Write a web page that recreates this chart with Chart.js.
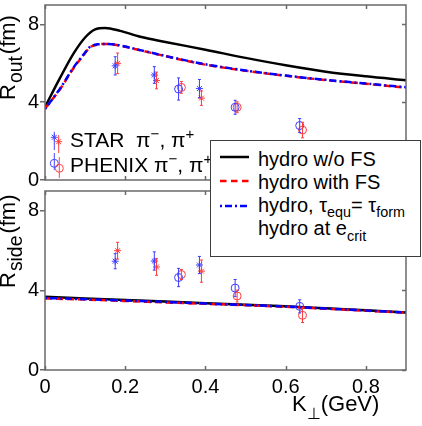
<!DOCTYPE html>
<html><head><meta charset="utf-8">
<script src="https://cdn.jsdelivr.net/npm/chart.js@4/dist/chart.umd.min.js"></script>
<style>
html,body{margin:0;padding:0;background:#fff;}
#wrap{position:relative;width:422px;height:426px;overflow:hidden;font-family:"Liberation Sans",Arial,sans-serif;color:#000;}
canvas{position:absolute;left:0;}
#c1{top:0;width:422px;height:190px;}
#c2{top:186px;width:422px;height:240px;}
.t{position:absolute;white-space:nowrap;line-height:1;}
.rot{transform-origin:0 0;transform:rotate(-90deg);}
.sb{position:relative;font-size:72%;line-height:0;}
.sp{position:relative;font-size:72%;line-height:0;}
#leg{position:absolute;left:210px;top:140px;width:211px;height:117px;box-sizing:border-box;background:#fff;border:1.5px solid #3c3c3c;}
#leg .t{font-size:20px;left:47px;}
</style></head>
<body><div id="wrap">
<canvas id="c1" width="422" height="190"></canvas>
<canvas id="c2" width="422" height="240"></canvas>

<div class="t rot" style="left:-3px;top:100px;font-size:22px;">R<span class="sb" style="top:7px;font-size:88%;padding:0 2px 0 1px;">out</span>(fm)</div>
<div class="t rot" style="left:-3px;top:288px;font-size:22px;">R<span class="sb" style="top:7px;font-size:88%;padding:0 2px 0 1px;">side</span>(fm)</div>
<div class="t" style="left:292px;top:393px;font-size:22px;">K<span class="sb" style="top:8px;">⊥</span>(GeV)</div>

<svg style="position:absolute;left:0;top:0;" width="100" height="190">
  <g stroke="#4646ff" stroke-width="1" fill="none">
    <line x1="54.3" y1="131.7" x2="54.3" y2="150"/>
    <path d="M50.8 137.3 L57.8 137.3 M54.3 133.8 L54.3 140.8 M51.8 134.8 L56.8 139.8 M51.8 139.8 L56.8 134.8"/>
    <line x1="54.3" y1="153" x2="54.3" y2="170"/>
    <circle cx="54.3" cy="163.3" r="4"/>
  </g>
  <g stroke="#ff4646" stroke-width="1" fill="none">
    <line x1="58.7" y1="135" x2="58.7" y2="153"/>
    <path d="M55.2 141.7 L62.2 141.7 M58.7 138.2 L58.7 145.2 M56.2 139.2 L61.2 144.2 M56.2 144.2 L61.2 139.2"/>
    <line x1="59.3" y1="157" x2="59.3" y2="178"/>
    <circle cx="59.3" cy="168.3" r="4"/>
  </g>
</svg>
<div class="t" style="left:70px;top:129px;font-size:21px;">STAR&nbsp; π<span class="sp" style="top:-8px;">−</span>, π<span class="sp" style="top:-8px;">+</span></div>
<div class="t" style="left:70px;top:154px;font-size:21px;">PHENIX π<span class="sp" style="top:-8px;">−</span>, π<span class="sp" style="top:-8px;">+</span></div>

<div id="leg">
  <svg style="position:absolute;left:0;top:0;" width="60" height="110">
    <line x1="9" y1="16" x2="38" y2="16" stroke="#000" stroke-width="2.5"/>
    <line x1="9" y1="40" x2="38" y2="40" stroke="#ff0000" stroke-width="2.5" stroke-dasharray="6.5,4.5"/>
    <line x1="9" y1="65" x2="38" y2="65" stroke="#0000ff" stroke-width="2.5" stroke-dasharray="2,3,7,3"/>
  </svg>
  <div class="t" style="top:8px;">hydro w/o FS</div>
  <div class="t" style="top:31px;">hydro with FS</div>
  <div class="t" style="top:54px;">hydro, τ<span class="sb" style="top:5px;">equ</span>= τ<span class="sb" style="top:5px;">form</span></div>
  <div class="t" style="top:77px;">hydro at e<span class="sb" style="top:6px;">crit</span></div>
</div>
</div>
<script>
// ---- data ----
const xTickVals = [0, 0.2, 0.4, 0.6, 0.8];
const yTickVals = [0, 4, 8];

// R_out curves
const kOutNoFS = [0, 0.0375, 0.071, 0.1, 0.125, 0.15, 0.1875, 0.2375, 0.3, 0.4, 0.5, 0.6, 0.7, 0.8, 0.9];
const routNoFS = [3.75, 5.25, 6.5, 7.33, 7.75, 7.82, 7.67, 7.37, 7.1, 6.7, 6.28, 5.9, 5.57, 5.33, 5.13];
const kOutFS   = [0, 0.0375, 0.071, 0.096, 0.1125, 0.133, 0.158, 0.196, 0.2375, 0.3, 0.4, 0.5, 0.6, 0.7, 0.8, 0.9];
const routFS   = [3.67, 4.67, 5.75, 6.42, 6.83, 6.97, 7.0, 6.87, 6.67, 6.37, 5.93, 5.62, 5.36, 5.14, 4.95, 4.75];
const routEqu  = [3.65, 4.7, 5.78, 6.45, 6.85, 6.98, 7.0, 6.88, 6.68, 6.38, 5.95, 5.63, 5.37, 5.15, 4.96, 4.77];

// R_side curves
const kSide      = [0, 0.1, 0.2, 0.3, 0.4, 0.5, 0.6, 0.7, 0.8, 0.9];
const rsideNoFS  = [3.68, 3.6, 3.52, 3.44, 3.36, 3.28, 3.2, 3.1, 3.0, 2.89];
const rsideFS    = [3.6, 3.54, 3.47, 3.4, 3.33, 3.26, 3.18, 3.08, 2.98, 2.88];
const rsideEqu   = [3.62, 3.56, 3.49, 3.42, 3.34, 3.27, 3.19, 3.09, 2.99, 2.89];

// data points
const kStarMinus   = [0.175, 0.2725, 0.385];
const kStarPlus    = [0.181, 0.278, 0.39];
const kPhenixMinus = [0.333, 0.474, 0.635];
const kPhenixPlus  = [0.34, 0.479, 0.642];

const routStarMinus     = [5.87, 5.4, 4.7];
const routStarMinusErr  = [0.47, 0.43, 0.47];
const routStarPlus      = [6.0, 5.12, 4.21];
const routStarPlusErr   = [0.53, 0.43, 0.37];
const routPhenixMinus   = [4.68, 3.74, 2.8];
const routPhenixMinusErr= [0.57, 0.36, 0.36];
const routPhenixPlus    = [4.76, 3.74, 2.57];
const routPhenixPlusErr = [0.3, 0.28, 0.4];

const rsideStarMinus     = [5.47, 5.48, 5.28];
const rsideStarMinusErr  = [0.38, 0.46, 0.43];
const rsideStarPlus      = [6.0, 5.18, 4.97];
const rsideStarPlusErr   = [0.42, 0.42, 0.56];
const rsidePhenixMinus   = [4.65, 4.12, 3.2];
const rsidePhenixMinusErr= [0.46, 0.43, 0.33];
const rsidePhenixPlus    = [4.8, 3.72, 2.75];
const rsidePhenixPlusErr = [0.25, 0.3, 0.36];

// ---- helpers ----
const BLUE = '#3c3cff', RED = '#ff3c3c', FRAME = '#6a6a6a';
const pts = (xs, ys) => xs.map((x, i) => ({x, y: ys[i]}));

function curve(xs, ys, color, dash, order) {
  return {type:'line', data: pts(xs, ys), borderColor: color, borderWidth: 2.5, borderDash: dash,
    pointRadius: 0, cubicInterpolationMode: 'monotone', fill: false, order};
}
function marks(xs, ys, errs, color, style) {
  return {type:'line', data: pts(xs, ys), errorBars: errs, showLine: false, borderColor: color,
    backgroundColor: 'rgba(0,0,0,0)', pointStyle: style, pointRadius: style === 'circle' ? 4 : 3.5,
    pointBorderWidth: 1, order: 0};
}

const errorBarPlugin = {
  id: 'errorBars',
  afterDatasetsDraw(chart) {
    const {ctx, scales: {x, y}} = chart;
    ctx.save();
    chart.data.datasets.forEach(ds => {
      if (!ds.errorBars) return;
      ctx.strokeStyle = ds.borderColor; ctx.lineWidth = 1;
      ds.data.forEach((p, i) => {
        const px = x.getPixelForValue(p.x);
        const y1 = y.getPixelForValue(p.y + ds.errorBars[i]);
        const y2 = y.getPixelForValue(p.y - ds.errorBars[i]);
        ctx.beginPath();
        ctx.moveTo(px, y1); ctx.lineTo(px, y2);
        ctx.moveTo(px - 1.5, y1); ctx.lineTo(px + 1.5, y1);
        ctx.moveTo(px - 1.5, y2); ctx.lineTo(px + 1.5, y2);
        ctx.stroke();
      });
    });
    ctx.restore();
  }
};

const framePlugin = {
  id: 'frame',
  afterDraw(chart) {
    const {ctx, chartArea: a, scales: {x, y}} = chart;
    ctx.save();
    ctx.strokeStyle = FRAME; ctx.lineWidth = 1.5;
    ctx.strokeRect(a.left, a.top, a.right - a.left, a.bottom - a.top);
    ctx.beginPath();
    xTickVals.forEach(v => {
      const px = Math.round(x.getPixelForValue(v)) + 0.5;
      ctx.moveTo(px, a.bottom); ctx.lineTo(px, a.bottom - 4);
      ctx.moveTo(px, a.top); ctx.lineTo(px, a.top + 4);
    });
    yTickVals.forEach(v => {
      const py = Math.round(y.getPixelForValue(v)) + 0.5;
      ctx.moveTo(a.right, py); ctx.lineTo(a.right - 4, py);
    });
    ctx.stroke();
    ctx.restore();
  }
};

function makeChart(id, datasets, showX, xHeight, pad) {
  return new Chart(document.getElementById(id), {
    type: 'line',
    data: {datasets},
    plugins: [errorBarPlugin, framePlugin],
    options: {
      responsive: false, animation: false, events: [],
      layout: {padding: pad},
      plugins: {legend: {display: false}, tooltip: {enabled: false}},
      scales: {
        x: {type: 'linear', min: 0, max: 0.9,
          afterBuildTicks: s => { s.ticks = xTickVals.map(v => ({value: v})); },
          afterFit: s => { s.height = xHeight; s.paddingLeft = 0; s.paddingRight = 0; },
          grid: {display: false}, border: {display: false},
          ticks: {display: showX, autoSkip: false, maxRotation: 0, padding: -3, color: '#000',
            font: {family: '"Liberation Sans", Arial, sans-serif', size: 20}}},
        y: {type: 'linear', min: 0, max: 9,
          afterBuildTicks: s => { s.ticks = yTickVals.map(v => ({value: v})); },
          afterFit: s => { s.width = 45; s.paddingTop = 0; s.paddingBottom = 0; },
          grid: {display: true, drawOnChartArea: false, drawTicks: true, tickLength: 5, color: FRAME, lineWidth: 1.5},
          border: {display: false},
          ticks: {padding: 1, color: '#000', font: {family: '"Liberation Sans", Arial, sans-serif', size: 20}}}
      }
    }
  });
}

makeChart('c1', [
  curve(kOutNoFS, routNoFS, '#000000', [], 3),
  curve(kOutFS, routFS, '#ff0000', [7, 4], 2),
  curve(kOutFS, routEqu, '#0000ff', [2, 3, 7, 3], 1),
  marks(kStarMinus, routStarMinus, routStarMinusErr, BLUE, 'star'),
  marks(kStarPlus, routStarPlus, routStarPlusErr, RED, 'star'),
  marks(kPhenixMinus, routPhenixMinus, routPhenixMinusErr, BLUE, 'circle'),
  marks(kPhenixPlus, routPhenixPlus, routPhenixPlusErr, RED, 'circle')
], false, 10, {top: 1, right: 16, left: 0, bottom: 0});

makeChart('c2', [
  curve(kSide, rsideNoFS, '#000000', [], 3),
  curve(kSide, rsideFS, '#ff0000', [7, 4], 2),
  curve(kSide, rsideEqu, '#0000ff', [2, 3, 7, 3], 1),
  marks(kStarMinus, rsideStarMinus, rsideStarMinusErr, BLUE, 'star'),
  marks(kStarPlus, rsideStarPlus, rsideStarPlusErr, RED, 'star'),
  marks(kPhenixMinus, rsidePhenixMinus, rsidePhenixMinusErr, BLUE, 'circle'),
  marks(kPhenixPlus, rsidePhenixPlus, rsidePhenixPlusErr, RED, 'circle')
], true, 56, {top: 4, right: 16, left: 0, bottom: 0});
</script>
</body></html>
